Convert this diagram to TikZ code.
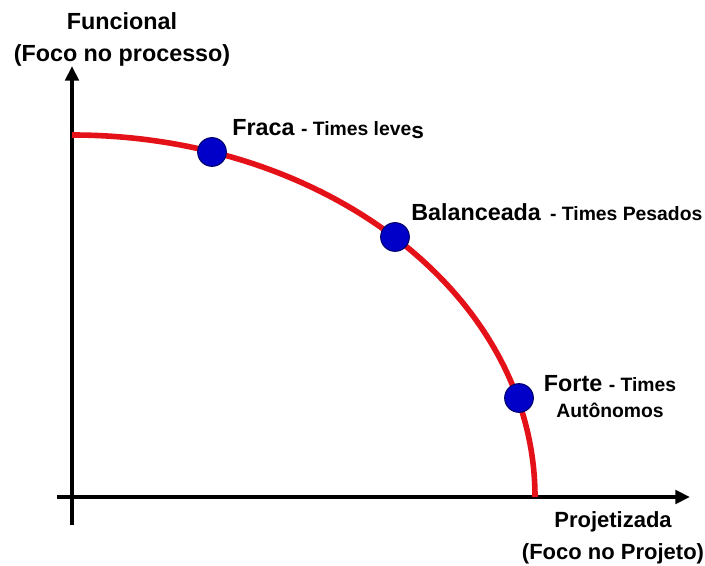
\documentclass[tikz,border=0pt]{standalone}
\usepackage{fontspec}
\setmainfont{Liberation Sans}
\usepackage{xcolor}
\usepackage{tikz}
\usetikzlibrary{positioning, arrows.meta}

\definecolor{curvered}{RGB}{228,18,24}
\definecolor{dotblue}{RGB}{0,0,200}
\definecolor{dotedge}{RGB}{0,0,110}

\begin{document}
\begin{tikzpicture}[
  x=0.75pt, y=0.75pt,
  axis/.style={line width=3pt, -{Triangle[length=11pt, width=10pt]}},
  dot/.style={circle, fill=dotblue, draw=dotedge, line width=0.8pt, minimum size=21.5pt, inner sep=0pt},
  big/.style={font=\fontsize{17.5}{24}\selectfont\bfseries, align=center, inner sep=0pt},
  lbl/.style={font=\fontsize{17.5}{19.5}\selectfont\bfseries, align=center, inner sep=0pt}
]
\useasboundingbox (0,0) rectangle (705,566);
\coordinate (o) at (72,69);
\coordinate (ybot) at (72,41);
\coordinate (ytop) at (72,500);
\coordinate (xleft) at (57,69);
\coordinate (xright) at (690,69);
\coordinate (cstart) at (72,431);

% axes
\draw[axis] (ybot) -- (ytop);
\draw[axis] (xleft) -- (xright);

% curve
\draw[curvered, line width=4.2pt] (cstart) arc[start angle=90, end angle=0, x radius=463, y radius=362];

% points on the curve
\node[dot] (fraca) at (212,414) {};
\node[dot] (balanceada) at (395,329) {};
\node[dot] (forte) at (519,168) {};

% labels
\node[big] (funcional) at (122,527) {Funcional\\(Foco no processo)};
\node[big, font=\fontsize{16.5}{24}\selectfont\bfseries] (projetizada) at (613,28) {Projetizada\\(Foco no Projeto)};
\node[lbl, anchor=base west] (fracaTxt) at (232,430) {Fraca {\fontsize{14.5}{16}\selectfont - Times leve\raisebox{-2pt}{\fontsize{17}{17}\selectfont s}}};
\node[lbl, anchor=base west] (balanceadaTxt) at (411,345) {Balanceada {\fontsize{14.5}{16}\selectfont\hspace{2pt}- Times Pesados}};
\node[lbl, anchor=north] (forteTxt) at (610,191) {Forte {\fontsize{14.5}{16}\selectfont - Times}\\{\fontsize{14.5}{16}\selectfont Autônomos}};
\end{tikzpicture}
\end{document}
